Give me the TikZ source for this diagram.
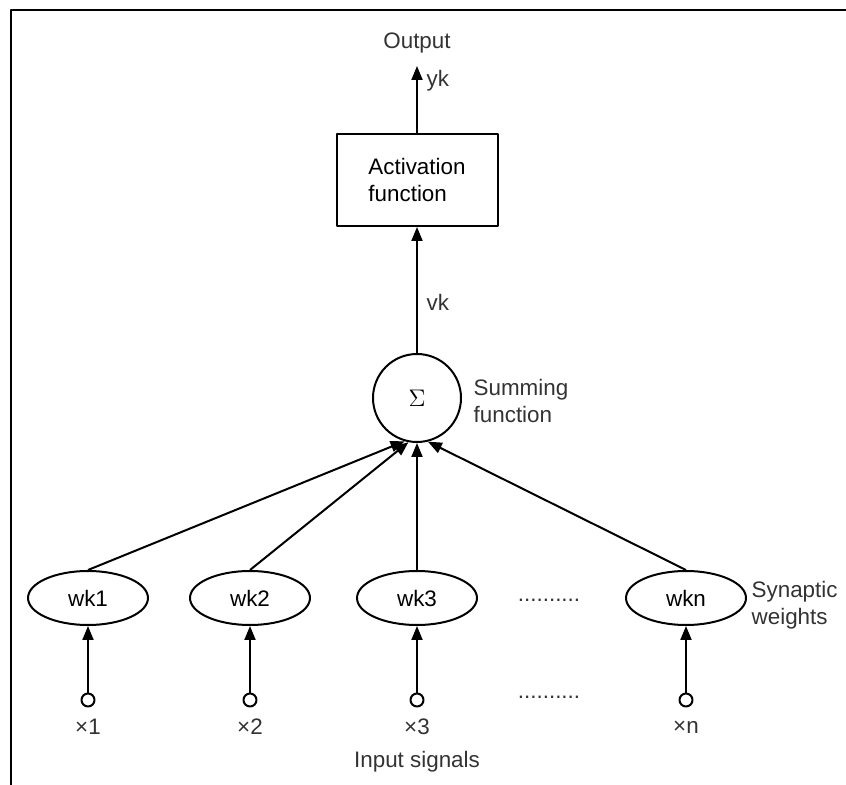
\documentclass[tikz,border=0pt]{standalone}
\usepackage{fontspec}
\setmainfont{Liberation Sans}
\usetikzlibrary{shapes.geometric,arrows.meta}
\begin{document}
\begin{tikzpicture}[x=.5pt, y=-.5pt, font=\fontsize{11.2}{13.5}\selectfont, line join=round, line width=1pt, >={Triangle[length=7pt,width=5.5pt]},
  weight/.style={draw, ellipse, minimum width=60pt, minimum height=27pt, inner sep=0pt},
  input/.style={draw, circle, minimum size=6.5pt, inner sep=0pt},
  lbl/.style={text=black!80}]
\useasboundingbox (0,0) rectangle (846,785);
\draw[line width=1.4pt] (11,785)--(11,10)--(846,10);
% output side
\node[draw, align=left, minimum width=80.5pt, minimum height=46pt] (act) at (417,180) {Activation\\function};
\coordinate (out) at (417,66);
\node[lbl] (output) at (417,43) {Output};
\draw[->] (act.north)--(out) node[lbl, anchor=west, pos=.78, xshift=1pt] {yk};
\node[draw, circle, minimum size=44pt, inner sep=0pt, font=\large] (sum) at (417,398) {$\Sigma$};
\node[lbl, align=left, anchor=west] at (466,401) {Summing\\function};
\draw[->] (sum.north)--(act.south) node[lbl, anchor=west, pos=.4, xshift=1pt] {vk};
% weights and inputs
\foreach \n/\x/\t/\a in {1/88/1/-106, 2/250/2/-101, 3/417/3/-90, n/686/n/-76} {
  \node[weight] (w\n) at (\x,598) {wk\t};
  \node[input] (x\n) at (\x,700) {};
  \node[lbl] at (\x,727) {×\t};
  \draw[->] (x\n)--(w\n);
  \draw[->] (w\n.north)--(sum.\a);
}
\node[lbl, align=left, anchor=west] at (744,605) {Synaptic\\weights};
\node[lbl] at (549,600) {..........};
\node[lbl] at (549,697) {..........};
\node[lbl] at (417,762) {Input signals};
\end{tikzpicture}
\end{document}
